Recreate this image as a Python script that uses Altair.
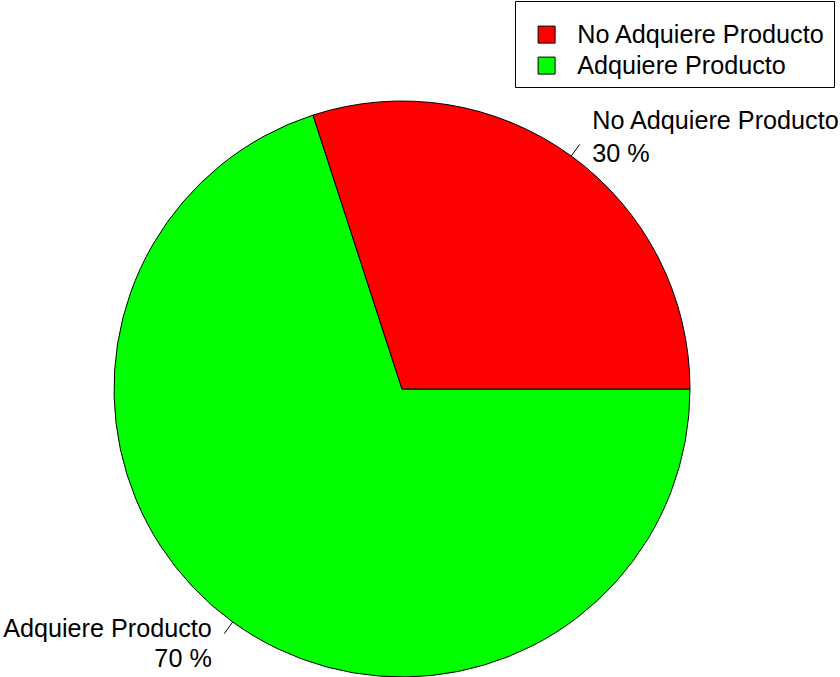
import altair as alt
import pandas as pd

categories = ["Adquiere Producto", "No Adquiere Producto"]
values = [70, 30]
order_idx = [0, 1]
legend_order = ["No Adquiere Producto", "Adquiere Producto"]
legend_colors = ["#FF0000", "#00FF00"]

df = pd.DataFrame({
    "cat": categories,
    "value": values,
    "ord": order_idx,
    "label": [f"{c}\n{v} %" for c, v in zip(categories, values)],
})

CX, CY, R = 402, 389, 288
FONT = "Liberation Sans"
FS = 25.2

base = alt.Chart(df)

color_scale = alt.Scale(domain=legend_order, range=legend_colors)

pie = base.mark_arc(radius=R, stroke="black", strokeWidth=1).encode(
    theta=alt.Theta("value:Q", stack=True,
                    scale=alt.Scale(range=[3.14159265 / 2, 3.14159265 / 2 + 2 * 3.14159265])),
    order=alt.Order("ord:Q"),
    color=alt.Color("cat:N", scale=color_scale,
                    legend=alt.Legend(
                        orient="none", legendX=515, legendY=1,
                        title=" ", titleFontSize=10, titlePadding=3,
                        strokeColor="black", fillColor="white", padding=8,
                        symbolType="square", symbolSize=289,
                        symbolStrokeColor="black", symbolStrokeWidth=1,
                        symbolOffset=11, labelOffset=18,
                        labelFont=FONT, labelFontSize=FS, labelColor="black",
                        rowPadding=5, labelLimit=400)),
    x=alt.value(CX),
    y=alt.value(CY),
)

geo = base.transform_window(
    cum="sum(value)", sort=[alt.SortField("ord")], frame=[None, 0]
).transform_joinaggregate(
    total="sum(value)"
).transform_calculate(
    ang="PI/2 + 2*PI*(datum.cum - datum.value/2)/datum.total"
).transform_calculate(
    x1=f"{CX} + {R}*sin(datum.ang)",
    y1=f"{CY} - {R}*cos(datum.ang)",
    x2=f"{CX} + {R}*1.05*sin(datum.ang)",
    y2=f"{CY} - {R}*1.05*cos(datum.ang)",
    tx=f"{CX} + {R}*1.1*sin(datum.ang)",
    ty=f"{CY} - {R}*1.1*cos(datum.ang)",
    side="sin(datum.ang) >= 0 ? 1 : 0",
)

ticks = geo.mark_rule(color="black", strokeWidth=1).encode(
    x=alt.X("x1:Q", scale=None), y=alt.Y("y1:Q", scale=None),
    x2="x2:Q", y2="y2:Q",
)

lab_right = geo.transform_filter("datum.side == 1").mark_text(
    align="left", baseline="middle", lineBreak="\n", lineHeight=33,
    font=FONT, fontSize=FS, color="black", dx=4, dy=-12,
).encode(x=alt.X("tx:Q", scale=None), y=alt.Y("ty:Q", scale=None), text="label:N")

lab_left = geo.transform_filter("datum.side == 0").mark_text(
    align="right", baseline="middle", lineBreak="\n", lineHeight=30,
    font=FONT, fontSize=FS, color="black", dx=-4, dy=-16,
).encode(x=alt.X("tx:Q", scale=None), y=alt.Y("ty:Q", scale=None), text="label:N")

chart = alt.layer(pie, ticks, lab_right, lab_left).properties(
    width=840, height=677,
    autosize=alt.AutoSizeParams(type="none"),
    padding=0,
    background="white",
).configure_view(stroke=None)

chart.save("out.html", embed_options={"renderer": "svg", "actions": False})
